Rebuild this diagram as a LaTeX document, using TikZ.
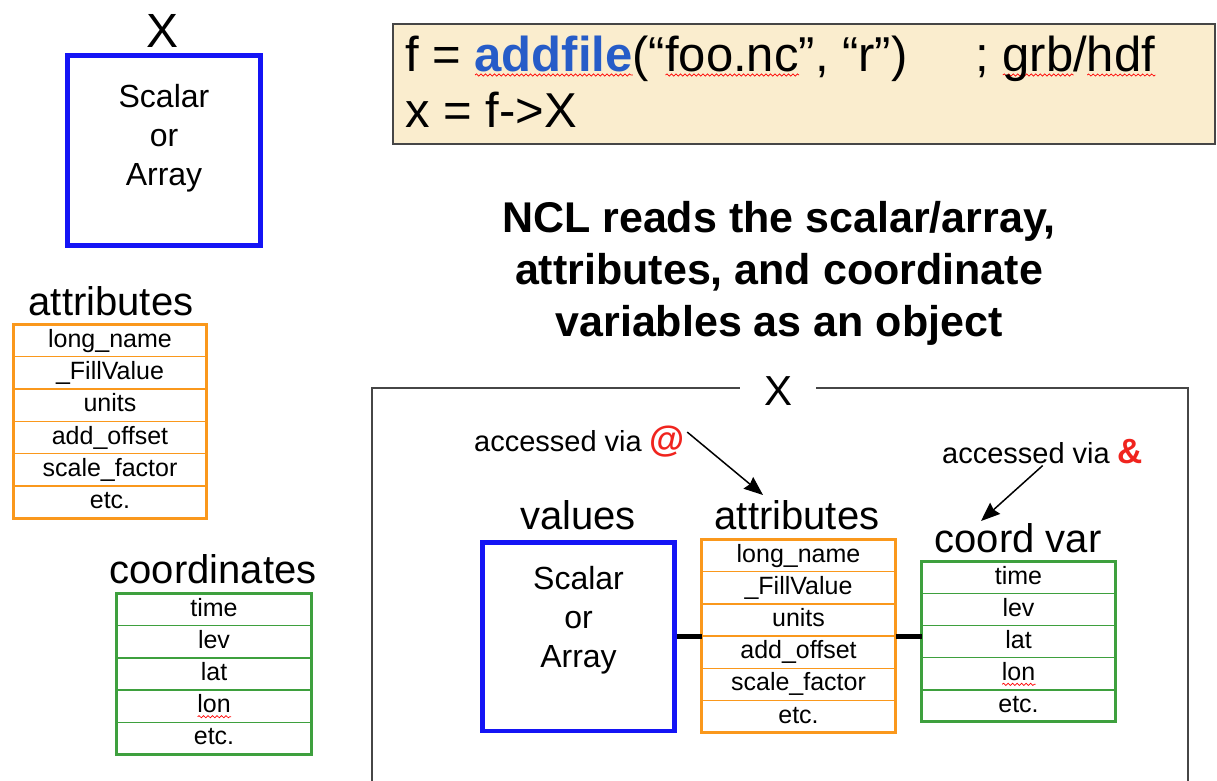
\documentclass[tikz,border=0pt]{standalone}
\usepackage{fontspec}
\setmainfont{Liberation Sans}
\usetikzlibrary{positioning,arrows.meta,decorations.pathmorphing}

\definecolor{valblue}{RGB}{20,20,245}
\definecolor{attrorange}{RGB}{250,152,28}
\definecolor{coordgreen}{RGB}{62,160,62}
\definecolor{codefill}{RGB}{250,237,206}
\definecolor{codeline}{RGB}{70,70,70}
\definecolor{kwblue}{RGB}{38,92,200}
\definecolor{accred}{RGB}{240,36,30}

\tikzset{spell/.style={draw=red, line width=0.7pt, decorate, decoration={snake, amplitude=1.1pt, segment length=4.5pt}}}

% red wavy underline of the spell checker
\newdimen\spellw
\newcommand{\spellmark}[1]{\setbox0=\hbox{#1}\spellw=\wd0\rlap{\tikz[baseline=0pt]\draw[spell] (0pt,-4pt) -- (\spellw,-4pt);}\box0}

\begin{document}
\begin{tikzpicture}[
  x=1pt, y=-1pt,
  title/.style={font=\fontsize{40}{44}\selectfont, inner sep=0pt, anchor=base},
  bigtxt/.style={font=\fontsize{32}{39}\selectfont, align=center},
  valbox/.style={draw=valblue, line width=4.5pt, minimum width=193pt, minimum height=190pt},
  cell/.style={draw=#1, line width=1.4pt, inner sep=0pt, outer sep=0pt, text height=18pt, text depth=5pt, font=\fontsize{25}{28}\selectfont},
  outline/.style={draw=#1, line width=3pt},
  codetxt/.style={font=\fontsize{49}{54}\selectfont, inner sep=0pt, anchor=base west},
  viatxt/.style={font=\fontsize{29}{32}\selectfont, inner sep=2pt, anchor=base west},
  pointer/.style={-{Stealth[length=19pt, width=15pt, inset=2pt]}, line width=1.5pt},
  link/.style={line width=5pt}
]
\useasboundingbox (0,0) rectangle (1217,780);

% left column
\node[font=\fontsize{48}{52}\selectfont, inner sep=0pt, anchor=base] (xtop) at (163,47) {X};
\node[valbox] (scalbox) at (164,150.5) {};
\node[bigtxt] (scaltxt) at (164,138) {Scalar\\or\\Array};

\node[title] (attrhead) at (111,315) {attributes};
\node[cell=attrorange, minimum width=193pt, minimum height=32.3pt] (la1) at (110,340.6) {long\_name};
\foreach \lab [count=\i from 2] in {\_FillValue, units, add\_offset, scale\_factor, etc.} {
  \pgfmathtruncatemacro\prev{\i-1}
  \node[cell=attrorange, minimum width=193pt, minimum height=32.3pt, below=0pt of la\prev] (la\i) {\lab};
}
\draw[outline=attrorange] (la1.north west) rectangle (la6.south east);

\node[title] (coordhead) at (213,583) {coordinates};
\node[cell=coordgreen, minimum width=195pt, minimum height=32.2pt] (lc1) at (214,609.6) {time};
\foreach \lab [count=\i from 2] in {lev, lat, \spellmark{lon}, etc.} {
  \pgfmathtruncatemacro\prev{\i-1}
  \node[cell=coordgreen, minimum width=195pt, minimum height=32.2pt, below=0pt of lc\prev] (lc\i) {\lab};
}
\draw[outline=coordgreen] (lc1.north west) rectangle (lc5.south east);

% code box
\node[draw=codeline, line width=2pt, fill=codefill, minimum width=822pt, minimum height=120pt] (code) at (804,84) {};
\node[codetxt] (codeA) at (405,71) {f = \spellmark{\textcolor{kwblue}{\bfseries addfile}}(“\spellmark{foo.nc}”, “r”)};
\node[codetxt] (codeC) at (975,71) {; \spellmark{grb}/\spellmark{hdf}};
\node[codetxt] (codeB) at (405,127) {x = f->X};

% heading
\node[font=\fontsize{43}{52}\selectfont\bfseries, align=center] (head) at (779,273) {NCL reads the scalar/array,\\attributes, and coordinate\\variables as an object};

% object frame
\draw[draw=codeline, line width=2pt] (372,781) |- (1188,388) -- (1188,781);
\node[font=\fontsize{42}{46}\selectfont, fill=white, inner xsep=24pt, inner ysep=3pt, anchor=base] (xobj) at (778,405) {X};

\node[viatxt] (viaAt) at (472,451) {accessed via \textcolor{accred}{\fontsize{36}{36}\selectfont\bfseries @}};
\node[viatxt] (viaAmp) at (940,463) {accessed via \textcolor{accred}{\fontsize{35}{35}\selectfont\bfseries\&}};

\node[title] (valhead) at (578,529) {values};
\node[valbox, minimum width=192pt, minimum height=188.5pt] (vals) at (578.5,636.5) {};
\node[bigtxt] (valtxt) at (578.5,620) {Scalar\\or\\Array};

\node[title] (attrhead2) at (797,529) {attributes};
\node[cell=attrorange, minimum width=194pt, minimum height=32.2pt] (ra1) at (798.5,555.6) {long\_name};
\foreach \lab [count=\i from 2] in {\_FillValue, units, add\_offset, scale\_factor, etc.} {
  \pgfmathtruncatemacro\prev{\i-1}
  \node[cell=attrorange, minimum width=194pt, minimum height=32.2pt, below=0pt of ra\prev] (ra\i) {\lab};
}
\draw[outline=attrorange] (ra1.north west) rectangle (ra6.south east);

\node[title] (coordhead2) at (1018,552) {coord var};
\node[cell=coordgreen, minimum width=194pt, minimum height=32.1pt] (rc1) at (1018.5,577.5) {time};
\foreach \lab [count=\i from 2] in {lev, lat, \spellmark{lon}, etc.} {
  \pgfmathtruncatemacro\prev{\i-1}
  \node[cell=coordgreen, minimum width=194pt, minimum height=32.1pt, below=0pt of rc\prev] (rc\i) {\lab};
}
\draw[outline=coordgreen] (rc1.north west) rectangle (rc5.south east);

\draw[link] (vals.east) -- (vals.east -| ra1.west);
\draw[link] (vals.east -| ra1.east) -- (vals.east -| rc1.west);

\coordinate (tipAttr) at (763,495);
\coordinate (tipCoord) at (981,521);
\draw[pointer] ([yshift=9pt]viaAt.east) -- (tipAttr);
\draw[pointer] (viaAmp.south) -- (tipCoord);
\end{tikzpicture}
\end{document}
